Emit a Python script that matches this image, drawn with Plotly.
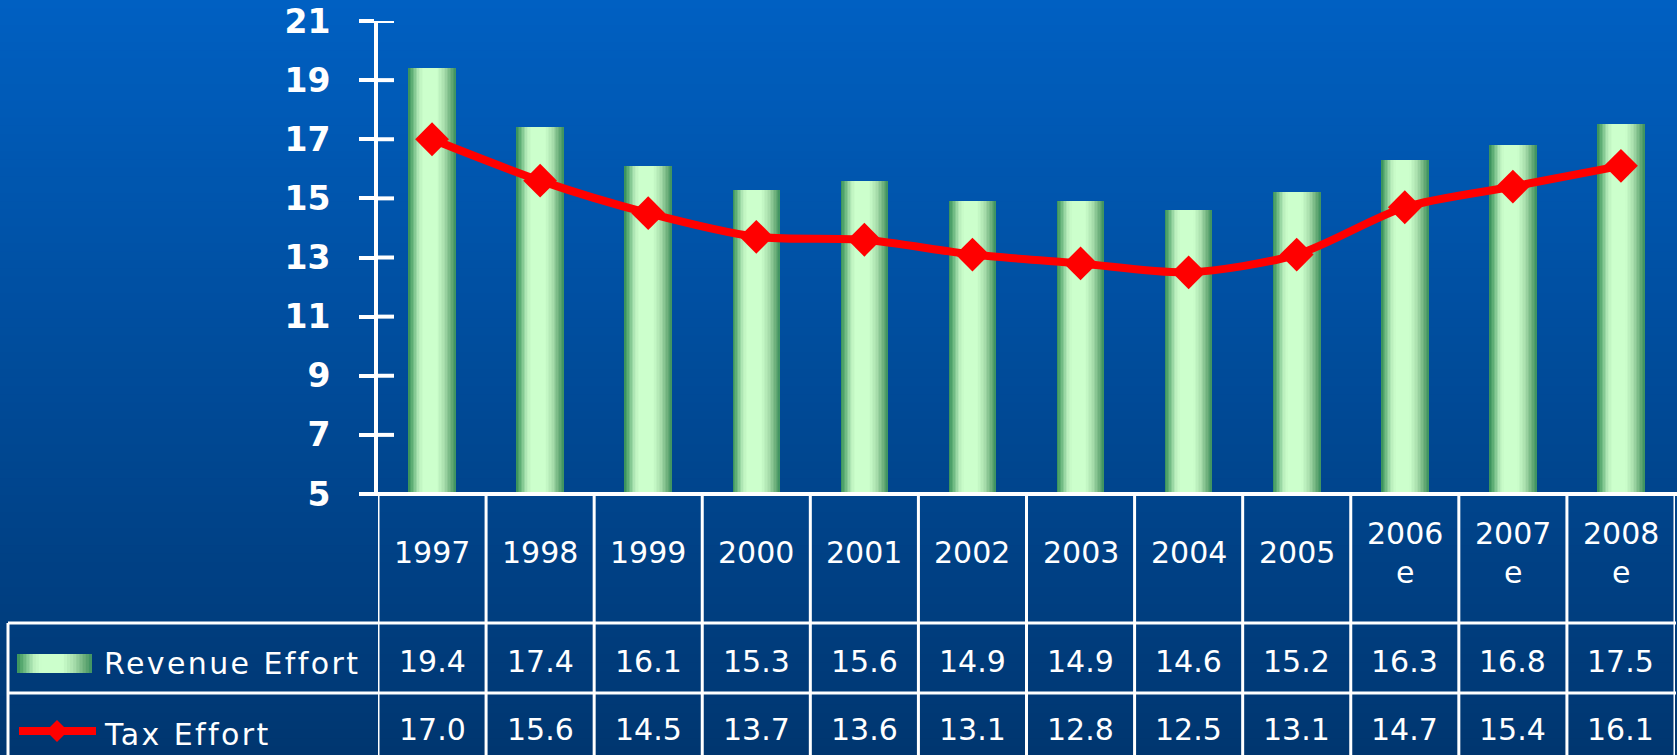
import plotly.graph_objects as go

# ---------------- data ----------------
years = ["1997", "1998", "1999", "2000", "2001", "2002", "2003", "2004", "2005", "2006", "2007", "2008"]
header_labels = ["1997", "1998", "1999", "2000", "2001", "2002", "2003", "2004", "2005",
                 "2006<br>e", "2007<br>e", "2008<br>e"]
revenue_effort = [19.4, 17.4, 16.1, 15.3, 15.6, 14.9, 14.9, 14.6, 15.2, 16.3, 16.8, 17.5]
tax_effort = [17.0, 15.6, 14.5, 13.7, 13.6, 13.1, 12.8, 12.5, 13.1, 14.7, 15.4, 16.1]
series_names = ["Revenue Effort", "Tax Effort"]
y_ticks = [5, 7, 9, 11, 13, 15, 17, 19, 21]

# ---------------- geometry (pixels) ----------------
W, H = 1677, 755
ML, MR, MT, MB = 378, 2, 21, 261
PW = W - ML - MR
PH = H - MT - MB


def px(xp):
    return (xp - ML) / PW


def py(yp):
    return (H - MB - yp) / PH


def lerp(c1, c2, t):
    return tuple(round(a + (b - a) * t) for a, b in zip(c1, c2))


def rgb(c):
    return "rgb(%d,%d,%d)" % c


# bar gradient (horizontal, cylinder look)
grad_stops = [(0.0, (52, 142, 88)), (0.08, (95, 175, 118)), (0.22, (185, 238, 188)),
              (0.32, (204, 255, 204)), (0.60, (204, 255, 204)), (0.76, (168, 222, 172)),
              (0.91, (102, 170, 118)), (1.0, (58, 144, 94))]


def grad_color(t):
    for (t0, c0), (t1, c1) in zip(grad_stops[:-1], grad_stops[1:]):
        if t <= t1:
            return lerp(c0, c1, (t - t0) / (t1 - t0) if t1 > t0 else 0)
    return grad_stops[-1][1]


fig = go.Figure()

BW = 0.44
N = 32
for i in range(N):
    off = -BW / 2 + i * BW / N
    fig.add_trace(go.Bar(
        x=years, y=revenue_effort, name=series_names[0],
        offset=off, width=BW - i * BW / N,
        marker=dict(color=rgb(grad_color((i + 0.5) / N)), line=dict(width=0)),
        showlegend=False, hoverinfo="skip" if i else "x+y",
    ))

fig.add_trace(go.Scatter(
    x=years, y=tax_effort, name=series_names[1], mode="lines+markers",
    line=dict(color="#ff0000", width=8, shape="spline", smoothing=0.8),
    marker=dict(symbol="diamond", size=26, color="#ff0000"),
    showlegend=False,
))

shapes = []
# background vertical gradient
top_c, bot_c = (0, 96, 194), (0, 54, 112)
NB = 90
for k in range(NB):
    y0p = H * k / NB
    y1p = H * (k + 1) / NB + 1
    shapes.append(dict(type="rect", xref="paper", yref="paper",
                       x0=px(0), x1=px(W), y0=py(y1p), y1=py(y0p),
                       fillcolor=rgb(lerp(top_c, bot_c, (k + 0.5) / NB)),
                       line=dict(width=0), layer="below"))

line_c = "white"
# inner half of the y ticks (ticks cross the axis line)
for t in y_ticks:
    shapes.append(dict(type="line", xref="paper", yref="y", x0=0, x1=px(394), y0=t, y1=t,
                       line=dict(color=line_c, width=4)))

# table lines
bottom = py(H + 5)
for i in range(len(years) + 1):
    shapes.append(dict(type="line", xref="x", yref="paper", x0=i - 0.5, x1=i - 0.5,
                       y0=0, y1=bottom, line=dict(color=line_c, width=3)))
for yp in (623, 693):
    shapes.append(dict(type="line", xref="paper", yref="paper", x0=px(8), x1=px(1676),
                       y0=py(yp), y1=py(yp), line=dict(color=line_c, width=3)))
shapes.append(dict(type="line", xref="paper", yref="paper", x0=px(8), x1=px(8),
                   y0=py(623), y1=bottom, line=dict(color=line_c, width=3)))
# x axis line (thick)
shapes.append(dict(type="line", xref="paper", yref="paper", x0=px(362), x1=px(W),
                   y0=0, y1=0, line=dict(color=line_c, width=4)))

# legend keys inside the table
NK = 24
kx0, kx1, ky0, ky1 = 17, 92, 654, 673
for k in range(NK):
    shapes.append(dict(type="rect", xref="paper", yref="paper",
                       x0=px(kx0 + (kx1 - kx0) * k / NK), x1=px(kx1),
                       y0=py(ky1), y1=py(ky0), fillcolor=rgb(grad_color((k + 0.5) / NK)),
                       line=dict(width=0)))
shapes.append(dict(type="line", xref="paper", yref="paper", x0=px(19), x1=px(96),
                   y0=py(731), y1=py(731), line=dict(color="#ff0000", width=8)))
dx, dy, cx, cy = 11, 11, 57, 731
shapes.append(dict(type="path", xref="paper", yref="paper",
                   path="M %f %f L %f %f L %f %f L %f %f Z" % (
                       px(cx - dx), py(cy), px(cx), py(cy - dy), px(cx + dx), py(cy), px(cx), py(cy + dy)),
                   fillcolor="#ff0000", line=dict(width=0)))

annotations = []
tfont = dict(family="DejaVu Sans", size=30, color="white")
for i, lab in enumerate(header_labels):
    yc = 552 if "<br>" not in lab else 553
    annotations.append(dict(x=i, xref="x", y=py(yc), yref="paper", text=lab, showarrow=False,
                            font=tfont, xanchor="center", yanchor="middle",
                            align="center"))
for i, v in enumerate(revenue_effort):
    annotations.append(dict(x=i, xref="x", y=py(661), yref="paper", text="%.1f" % v,
                            showarrow=False, font=tfont, xanchor="center", yanchor="middle"))
for i, v in enumerate(tax_effort):
    annotations.append(dict(x=i, xref="x", y=py(729), yref="paper", text="%.1f" % v,
                            showarrow=False, font=tfont, xanchor="center", yanchor="middle"))
annotations.append(dict(x=px(102), xref="paper", y=py(663), yref="paper", text=series_names[0],
                        showarrow=False, font=tfont, xanchor="left", yanchor="middle",
                        align="left"))
annotations.append(dict(x=px(102), xref="paper", y=py(734), yref="paper", text=series_names[1],
                        showarrow=False, font=tfont, xanchor="left", yanchor="middle",
                        align="left"))

fig.update_layout(
    width=W, height=H,
    margin=dict(l=ML, r=MR, t=MT, b=MB, pad=0),
    paper_bgcolor="#004a98", plot_bgcolor="rgba(0,0,0,0)",
    barmode="overlay", bargap=0,
    showlegend=False,
    xaxis=dict(type="category", range=[-0.5, len(years) - 0.5], showticklabels=False,
               showgrid=False, zeroline=False, showline=False, ticks=""),
    yaxis=dict(range=[5, 21], tickvals=y_ticks, showgrid=False, zeroline=False,
               showline=True, linecolor="white", linewidth=4,
               ticks="outside", ticklen=15, tickwidth=4, tickcolor="white",
               ticklabelstandoff=22,
               tickfont=dict(family="DejaVu Sans", size=33, color="white", weight="bold")),
    shapes=shapes,
    annotations=annotations,
)

post = (
    "document.body.style.margin='0';document.body.style.padding='0';"
    "document.body.style.overflow='hidden';"
    "document.querySelectorAll('.annotation-text').forEach(function(e){"
    "var t=e.textContent;"
    "if(t==='Revenue Effort'||t==='Tax Effort'){e.style.letterSpacing='2.4px';}"
    "});"
)
fig.write_html("out.html", config={"displayModeBar": False}, post_script=post)
